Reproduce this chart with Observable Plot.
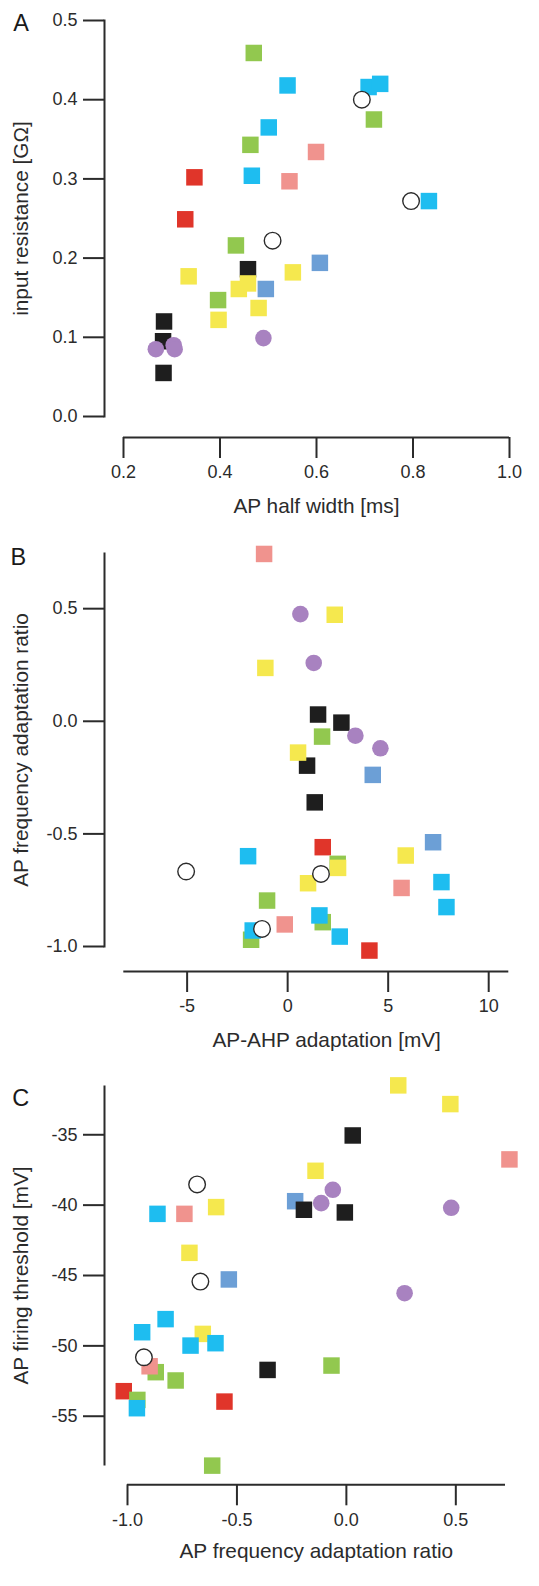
<!DOCTYPE html>
<html><head><meta charset="utf-8">
<script src="https://cdn.jsdelivr.net/npm/d3@7"></script>
<script src="https://cdn.jsdelivr.net/npm/@observablehq/plot@0.6"></script>
<style>
html,body{margin:0;padding:0;background:#fff;}
#chart{width:539px;}
#chart svg{display:block;}
</style></head><body><div id="chart"></div>
<script>
// ---- groups (draw order) and colours ----
const groups = ["red","steel","black","green","yellow","pink","purple","cyan","open"];
const groupColors = ["#e0352a","#6c9fd6","#1e1e1e","#92c84f","#f5e84e","#f0938e","#a882c0","#1ebdf0","#ffffff"];

// ---- Panel A: AP half width [ms] vs input resistance [GOhm] ----
const aGroup = ["red","red","steel","steel","black","black","black","black",
  "green","green","green","green","green","yellow","yellow","yellow","yellow","yellow","yellow",
  "pink","pink","purple","purple","purple","purple",
  "cyan","cyan","cyan","cyan","cyan","cyan","open","open","open"];
const aX = [0.347,0.328,0.607,0.495,0.458,0.284,0.282,0.283,
  0.470,0.463,0.719,0.433,0.396,0.335,0.551,0.439,0.458,0.480,0.397,
  0.599,0.544,0.267,0.304,0.306,0.490,
  0.540,0.501,0.466,0.708,0.732,0.833,0.694,0.796,0.509];
const aY = [0.302,0.249,0.194,0.161,0.186,0.120,0.095,0.055,
  0.459,0.343,0.375,0.216,0.147,0.177,0.182,0.161,0.168,0.137,0.122,
  0.334,0.297,0.085,0.090,0.085,0.099,
  0.418,0.365,0.304,0.416,0.420,0.272,0.400,0.272,0.222];
const aXTicks = [0.2,0.4,0.6,0.8,1.0];
const aXTickLabels = ["0.2","0.4","0.6","0.8","1.0"];
const aYTicks = [0,0.1,0.2,0.3,0.4,0.5];
const aYTickLabels = ["0.0","0.1","0.2","0.3","0.4","0.5"];

// ---- Panel B: AP-AHP adaptation [mV] vs AP frequency adaptation ratio ----
const bGroup = ["red","red","steel","steel","black","black","black","black",
  "green","green","green","green","green","yellow","yellow","yellow","yellow","yellow","yellow",
  "pink","pink","pink","purple","purple","purple","purple",
  "cyan","cyan","cyan","cyan","cyan","cyan","open","open","open"];
const bX = [1.745,4.067,4.233,7.234,1.513,2.674,0.966,1.347,
  1.712,2.49,-1.023,1.745,-1.818,2.342,-1.109,0.518,5.873,2.508,1.015,
  -1.172,5.667,-0.144,0.634,1.297,3.369,4.613,
  -1.968,7.65,7.899,1.58,2.591,-1.738,-5.05,1.658,-1.275];
const bY = [-0.559,-1.018,-0.238,-0.537,0.030,-0.006,-0.197,-0.360,
  -0.068,-0.633,-0.796,-0.892,-0.970,0.473,0.237,-0.139,-0.596,-0.651,-0.719,
  0.743,-0.740,-0.902,0.476,0.259,-0.064,-0.120,
  -0.599,-0.714,-0.825,-0.862,-0.956,-0.929,-0.667,-0.678,-0.922];
const bXTicks = [-5,0,5,10];
const bXTickLabels = ["-5","0","5","10"];
const bYTicks = [-1,-0.5,0,0.5];
const bYTickLabels = ["-1.0","-0.5","0.0","0.5"];

// ---- Panel C: AP frequency adaptation ratio vs AP firing threshold [mV] ----
const cGroup = bGroup;
const cX = [-1.017,-0.557,-0.234,-0.537,0.029,-0.194,-0.007,-0.360,
  -0.068,-0.613,-0.780,-0.871,-0.955,0.475,0.237,-0.141,-0.595,-0.656,-0.717,
  0.745,-0.740,-0.899,0.479,0.266,-0.062,-0.115,
  -0.598,-0.712,-0.826,-0.863,-0.957,-0.933,-0.667,-0.682,-0.925];
const cY = [-53.22,-53.96,-39.72,-45.28,-35.05,-40.33,-40.52,-51.71,
  -51.40,-58.51,-52.46,-51.87,-53.84,-32.82,-31.49,-37.56,-40.14,-49.15,-43.39,
  -36.75,-40.62,-51.45,-40.19,-46.26,-38.91,-39.86,
  -49.81,-49.98,-48.10,-40.62,-54.43,-49.03,-45.43,-38.53,-50.81];
const cXTicks = [-1,-0.5,0,0.5];
const cXTickLabels = ["-1.0","-0.5","0.0","0.5"];
const cYTicks = [-55,-50,-45,-40,-35];
const cYTickLabels = ["-55","-50","-45","-40","-35"];

const ink = "#2b2b2b";
const font = "'Liberation Sans', Arial, Helvetica, sans-serif";

function rowsOf(G, X, Y) {
  const rows = G.map((g, i) => ({g, x: X[i], y: Y[i]}));
  return d3.sort(rows, d => groups.indexOf(d.g));
}
const colorOf = d => groupColors[groups.indexOf(d.g)];

function panel(c) {
  const rows = rowsOf(c.group, c.X, c.Y);
  return Plot.plot({
    width: 539, height: c.height,
    marginTop: c.mt, marginBottom: c.mb, marginLeft: 104, marginRight: c.mr,
    insetLeft: c.il,
    style: {fontFamily: font, fontSize: "18px", background: "white", overflow: "visible", color: ink},
    color: {type: "identity"},
    x: {domain: c.xDomain},
    y: {domain: c.yDomain},
    marks: [
      Plot.frame({anchor: "left", stroke: ink, strokeWidth: 2}),
      Plot.ruleY([c.yDomain[0]], {x1: c.xDomain[0], x2: c.xDomain[1], dy: c.drop, stroke: ink, strokeWidth: 2}),
      Plot.axisY(c.yTicks, {tickSize: 21, tickPadding: 6, fontSize: 18, color: ink, strokeWidth: 2,
        tickFormat: d => c.yTickLabels[c.yTicks.indexOf(d)], label: null}),
      Plot.axisX(c.xTicks, {tickSize: 21, tickPadding: 7, dy: c.drop, fontSize: 18, color: ink, strokeWidth: 2,
        tickFormat: d => c.xTickLabels[c.xTicks.indexOf(d)], label: null}),
      Plot.dot(rows.filter(d => d.g !== "purple" && d.g !== "open"),
        {x: "x", y: "y", symbol: "square", r: 9.3, fill: colorOf}),
      Plot.dot(rows.filter(d => d.g === "purple"), {x: "x", y: "y", r: 8.3, fill: colorOf}),
      Plot.dot(rows.filter(d => d.g === "open"), {x: "x", y: "y", r: 8.3, fill: "white", stroke: ink, strokeWidth: 1.4}),
      Plot.text([c.yLabel], {text: d => d, frameAnchor: "left", rotate: -90, dx: -76.7, textAnchor: "middle", lineAnchor: "bottom", fontSize: 20.8, fill: ink}),
      Plot.text([c.xLabel], {text: d => d, frameAnchor: "bottom", dx: c.xlDx, dy: c.xlDy, textAnchor: "middle", lineAnchor: "bottom", fontSize: 20.8, fill: ink}),
      Plot.text([c.letter], {text: d => d, frameAnchor: "top-left", dx: c.lDx, dy: c.lDy, textAnchor: "start", lineAnchor: "bottom", fontSize: 23.5, fill: "#1a1a1a"})
    ]
  });
}

const chart = document.getElementById("chart");
chart.append(panel({
  letter: "A", height: 520, mt: 20, mb: 104, mr: 30, il: 19, drop: 21,
  xDomain: [0.2, 1.0], yDomain: [0, 0.5],
  group: aGroup, X: aX, Y: aY,
  xTicks: aXTicks, xTickLabels: aXTickLabels, yTicks: aYTicks, yTickLabels: aYTickLabels,
  xLabel: "AP half width [ms]", yLabel: "input resistance [GΩ]",
  xlDx: 9.5, xlDy: 96, lDx: -91.3, lDy: 10
}));
chart.append(panel({
  letter: "B", height: 540, mt: 33, mb: 114, mr: 30.7, il: 19.3, drop: 25,
  xDomain: [-8.15, 11], yDomain: [-1.0, 0.745],
  group: bGroup, X: bX, Y: bY,
  xTicks: bXTicks, xTickLabels: bXTickLabels, yTicks: bYTicks, yTickLabels: bYTickLabels,
  xLabel: "AP-AHP adaptation [mV]", yLabel: "AP frequency adaptation ratio",
  xlDx: 20, xlDy: 100, lDx: -94, lDy: 11
}));
chart.append(panel({
  letter: "C", height: 526, mt: 26, mb: 122, mr: 34, il: 23, drop: 20.3,
  xDomain: [-1.0, 0.727], yDomain: [-58.43, -31.57],
  group: cGroup, X: cX, Y: cY,
  xTicks: cXTicks, xTickLabels: cXTickLabels, yTicks: cYTicks, yTickLabels: cYTickLabels,
  xLabel: "AP frequency adaptation ratio", yLabel: "AP firing threshold [mV]",
  xlDx: 11.3, xlDy: 93.5, lDx: -92.3, lDy: 19
}));
</script></body></html>
